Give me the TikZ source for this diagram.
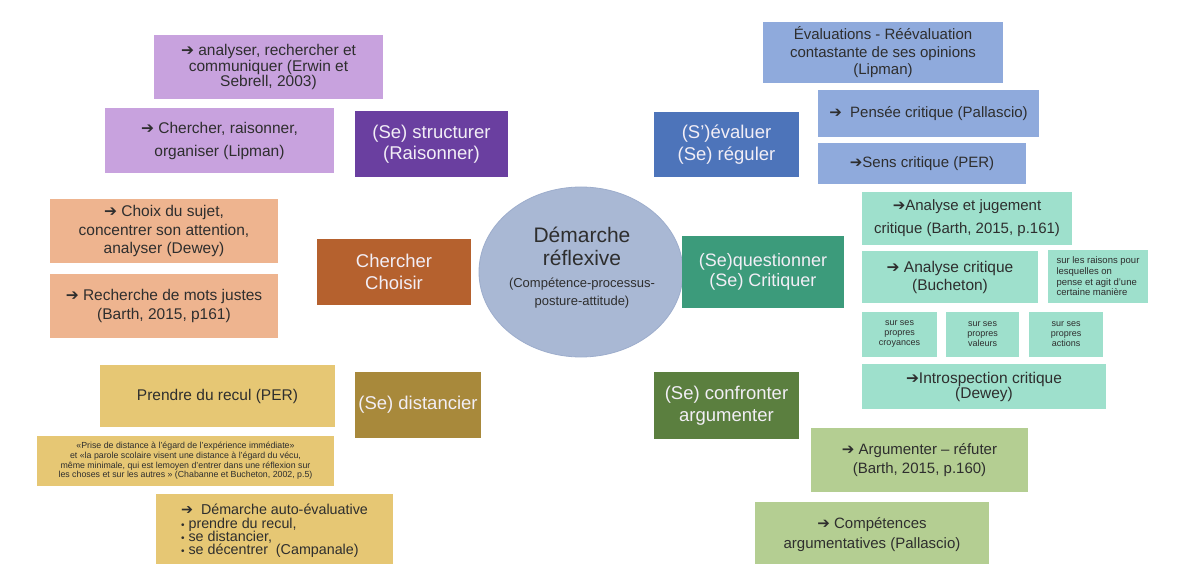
\documentclass[tikz,border=0pt]{standalone}
\usepackage{fontspec}
\setmainfont{Liberation Sans}
\newfontfamily\dv{DejaVu Sans}
\usetikzlibrary{shapes.geometric}
\definecolor{txt}{HTML}{2E2E2E}
\definecolor{ltxt}{HTML}{F2EEF6}
\definecolor{lpurple}{HTML}{C8A2DE}
\definecolor{dpurple}{HTML}{6A3FA0}
\definecolor{salmon}{HTML}{EEB48F}
\definecolor{brown}{HTML}{B5612E}
\definecolor{lyellow}{HTML}{E6C774}
\definecolor{dgold}{HTML}{A8893B}
\definecolor{circ}{HTML}{A9B8D4}
\definecolor{circb}{HTML}{9DADCC}
\definecolor{lblue}{HTML}{8FAADC}
\definecolor{mblue}{HTML}{4D74BA}
\definecolor{lteal}{HTML}{9EE0CC}
\definecolor{dteal}{HTML}{3C9B7B}
\definecolor{dgreen}{HTML}{5B7F3F}
\definecolor{lgreen}{HTML}{B4CE92}
\newcommand\fz[2]{\fontsize{#1}{#2}\selectfont}
\newcommand\arr{{\dv ➔}}
\newcommand\bul{{\fz{10}{10}•}}
\tikzset{
  box/.style={rectangle, inner sep=0pt, align=center, text=txt},
  hub/.style={rectangle, inner sep=0pt, align=center, text=ltxt, font={\fz{18.5}{21.5}}},
}
\begin{document}
\begin{tikzpicture}[x=1pt,y=-1pt]
\useasboundingbox (0,0) rectangle (1192,564);
\clip (0,0) rectangle (1192,564);
\fill[white] (0,0) rectangle (1192,564);

% purple group
\node[box, fill=lpurple, minimum width=229pt, minimum height=64pt, font={\fz{15.5}{15.5}}] (a1) at (268.5,67) {\arr\ analyser, rechercher et\\communiquer (Erwin et\\Sebrell, 2003)};
\node[box, fill=lpurple, minimum width=229pt, minimum height=65pt, font={\fz{15.5}{23}}] (a2) at (219.5,140.5) {\arr\ Chercher, raisonner,\\organiser (Lipman)};
\node[hub, fill=dpurple, minimum width=153pt, minimum height=66pt] (s1) at (431.5,144) {(Se) structurer\\(Raisonner)};

% orange group
\node[box, fill=salmon, minimum width=228pt, minimum height=64pt, font={\fz{15.5}{18.5}}] (b1) at (164,231) {\arr\ Choix du sujet,\\concentrer son attention,\\analyser (Dewey)};
\node[box, fill=salmon, minimum width=228pt, minimum height=64pt, font={\fz{15.5}{19}}] (b2) at (164,306) {\arr\ Recherche de mots justes\\(Barth, 2015, p161)};
\node[hub, fill=brown, minimum width=154pt, minimum height=66pt] (s2) at (394,272) {Chercher\\Choisir};

% yellow group
\node[box, fill=lyellow, minimum width=235pt, minimum height=62pt, font={\fz{15.5}{18}}] (c1) at (217.5,396) {Prendre du recul (PER)};
\node[box, fill=lyellow, minimum width=297pt, minimum height=50pt, font={\fz{8.8}{9.6}}] (c2) at (185.5,461) {«Prise de distance à l'égard de l'expérience immédiate»\\et «la parole scolaire visent une distance à l'égard du vécu,\\même minimale, qui est lemoyen d'entrer dans une réflexion sur\\les choses et sur les autres » (Chabanne et Bucheton, 2002, p.5)};
\node[hub, fill=dgold, minimum width=126pt, minimum height=66pt] (s3) at (418,405) {(Se) distancier};
\node[box, fill=lyellow, minimum width=237pt, minimum height=74pt, align=left, font={\fz{14.3}{13.4}}] (c3) at (274.5,531) {\arr\ \ Démarche auto-évaluative\\\bul\ prendre du recul,\\\bul\ se distancier,\\\bul\ se décentrer\ \ (Campanale)};

% centre
\node[ellipse, fill=circ, draw=circb, line width=0.8pt, minimum width=204pt, minimum height=170pt, inner sep=0pt] (hubc) at (581,272) {};
\node[align=center, text=txt, inner sep=0pt, font={\fz{21}{23}}] (hubt) at (582,268) {Démarche\\réflexive\\[-1pt]\fz{13}{18}(Compétence-processus-\\[-5pt]\fz{13}{18}posture-attitude)};

% blue group
\node[box, fill=lblue, minimum width=240pt, minimum height=61pt, font={\fz{15}{17.5}}] (d1) at (883,52.5) {Évaluations - Réévaluation\\contastante de ses opinions\\(Lipman)};
\node[box, fill=lblue, minimum width=221pt, minimum height=47pt, font={\fz{15}{17}}] (d2) at (928.5,113.5) {\arr\ \ Pensée critique (Pallascio)};
\node[box, fill=lblue, minimum width=208pt, minimum height=41pt, font={\fz{15}{17}}] (d3) at (922,163.5) {\arr Sens critique (PER)};
\node[hub, fill=mblue, minimum width=145pt, minimum height=65pt] (s4) at (726.5,144.5) {(S')évaluer\\(Se) réguler};

% teal group
\node[box, fill=lteal, minimum width=210pt, minimum height=53pt, font={\fz{15}{23}}] (e1) at (967,218.5) {\arr Analyse et jugement\\critique (Barth, 2015, p.161)};
\node[box, fill=lteal, minimum width=176pt, minimum height=52pt, font={\fz{15.5}{18}}] (e2) at (950,277) {\arr\ Analyse critique\\(Bucheton)};
\node[box, fill=lteal, minimum width=100pt, minimum height=53pt, align=left, font={\fz{9.5}{10.6}}] (e3) at (1098,276.5) {sur les raisons pour\\lesquelles on\\pense et agit d'une\\certaine manière};
\node[box, fill=lteal, minimum width=75pt, minimum height=45pt, font={\fz{9}{10}}] (e4) at (899.5,334.5) {sur ses\\propres\\croyances};
\node[box, fill=lteal, minimum width=73pt, minimum height=45pt, font={\fz{9}{10}}] (e5) at (982.5,334.5) {sur ses\\propres\\valeurs};
\node[box, fill=lteal, minimum width=74pt, minimum height=45pt, font={\fz{9}{10}}] (e6) at (1066,334.5) {sur ses\\propres\\actions};
\node[box, fill=lteal, minimum width=244pt, minimum height=45pt, font={\fz{15.5}{15}}] (e7) at (984,386.5) {\arr Introspection critique\\(Dewey)};
\node[hub, fill=dteal, minimum width=162pt, minimum height=72pt, font={\fz{18}{20.5}}] (s5) at (763,272) {(Se)questionner\\(Se) Critiquer};

% green group
\node[hub, fill=dgreen, minimum width=145pt, minimum height=67pt] (s6) at (726.5,405.5) {(Se) confronter\\argumenter};
\node[box, fill=lgreen, minimum width=217pt, minimum height=64pt, font={\fz{15}{19}}] (f1) at (919.5,460) {\arr\ Argumenter – réfuter\\(Barth, 2015, p.160)};
\node[box, fill=lgreen, minimum width=234pt, minimum height=66pt, font={\fz{15}{20}}] (f2) at (872,535) {\arr\ Compétences\\argumentatives (Pallascio)};
\end{tikzpicture}
\end{document}
